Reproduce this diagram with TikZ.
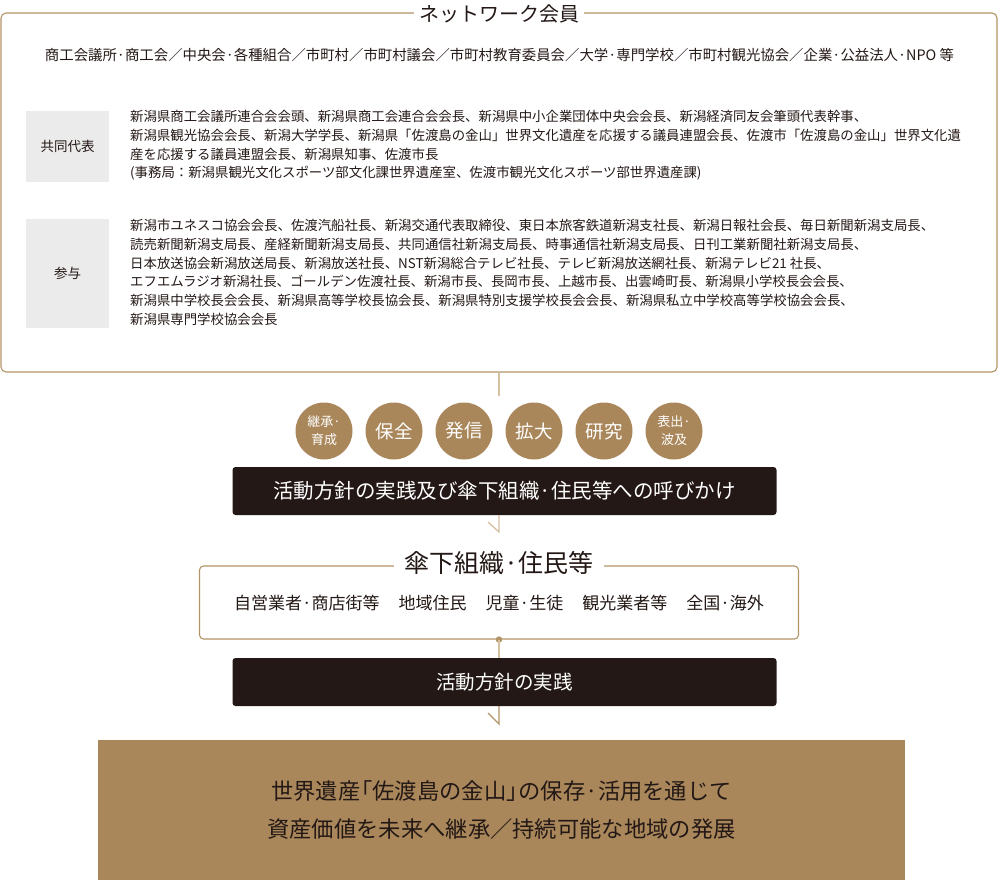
\documentclass[tikz,border=0pt]{standalone}
\usepackage{fontspec}
\setmainfont{Noto Sans CJK JP}
\definecolor{tanc}{HTML}{A9875B}
\definecolor{tanline}{HTML}{B39469}
\definecolor{lighttan}{HTML}{D6C0A2}
\definecolor{darkc}{HTML}{231815}
\definecolor{grayc}{HTML}{EBEBEB}
\newcommand\fsz[2]{\fontsize{#1}{#2}\selectfont}
\newcommand\lbr{\kern-0.45em「}
\newcommand\rbr{」\kern-0.45em}
\begin{document}
\begin{tikzpicture}[x=1pt,y=-1pt,
  framebox/.style={draw=tanline, line width=1.1pt, rounded corners=5pt, inner sep=0},
  labelgap/.style={fill=white, inner ysep=1pt, text=darkc},
  graybox/.style={fill=grayc, minimum width=83pt, inner sep=0, text=darkc, font=\fsz{13.5}{16}},
  listtext/.style={anchor=north west, inner sep=0, align=left, text=darkc, font=\fsz{13.4}{18.8}},
  circ/.style={circle, fill=tanc, minimum size=57pt, inner sep=0, text=white, align=center},
  darkbar/.style={fill=darkc, rounded corners=3pt, minimum width=544pt, minimum height=48pt, inner sep=0, text=white},
  lightline/.style={draw=lighttan, line width=1.3pt},
  arrowline/.style={draw=tanline, line width=1.3pt}]
\useasboundingbox (0,0) rectangle (998,884);

% network members frame
\node[framebox, minimum width=996pt, minimum height=359pt] (netbox) at (499,192.5) {};
\node[labelgap, inner xsep=5pt, font=\fsz{20}{24}] (nettitle) at (499,14) {ネットワーク会員};
\node[text=darkc, inner sep=0, font=\fsz{14.4}{17}] (members) at (499.5,55) {商工会議所·商工会／中央会·各種組合／市町村／市町村議会／市町村教育委員会／大学·専門学校／市町村観光協会／企業·公益法人·NPO 等};

\node[graybox, minimum height=71pt] (kyodo) at (67.5,146.5) {共同代表};
\node[listtext] (kyodotxt) at (130,110) {新潟県商工会議所連合会会頭、新潟県商工会連合会会長、新潟県中小企業団体中央会会長、新潟経済同友会筆頭代表幹事、\\
新潟県観光協会会長、新潟大学学長、新潟県「佐渡島の金山」世界文化遺産を応援する議員連盟会長、佐渡市「佐渡島の金山」世界文化遺\\
産を応援する議員連盟会長、新潟県知事、佐渡市長\\
(事務局：新潟県観光文化スポーツ部文化課世界遺産室、佐渡市観光文化スポーツ部世界遺産課)};

\node[graybox, minimum height=109pt] (sanyo) at (67.5,273.5) {参与};
\node[listtext] (sanyotxt) at (130,219) {新潟市ユネスコ協会会長、佐渡汽船社長、新潟交通代表取締役、東日本旅客鉄道新潟支社長、新潟日報社会長、毎日新聞新潟支局長、\\
読売新聞新潟支局長、産経新聞新潟支局長、共同通信社新潟支局長、時事通信社新潟支局長、日刊工業新聞社新潟支局長、\\
日本放送協会新潟放送局長、新潟放送社長、NST新潟総合テレビ社長、テレビ新潟放送網社長、新潟テレビ21 社長、\\
エフエムラジオ新潟社長、ゴールデン佐渡社長、新潟市長、長岡市長、上越市長、出雲崎町長、新潟県小学校長会会長、\\
新潟県中学校長会会長、新潟県高等学校長協会長、新潟県特別支援学校長会会長、新潟県私立中学校高等学校協会会長、\\
新潟県専門学校協会会長};

\coordinate (c0) at (499,396);
\draw[lightline] (netbox.south) -- (c0);

% circles
\node[circ, font=\fsz{13}{18}] (k1) at (324,431) {継承·\\育成};
\node[circ, font=\fsz{18.5}{20}] (k2) at (394,431) {保全};
\node[circ, font=\fsz{18.5}{20}] (k3) at (464,431) {発信};
\node[circ, font=\fsz{18.5}{20}] (k4) at (534,431) {拡大};
\node[circ, font=\fsz{18.5}{20}] (k5) at (604,431) {研究};
\node[circ, font=\fsz{13}{18}] (k6) at (674,431) {表出·\\波及};

% bar 1
\node[darkbar, font=\fsz{20.5}{23}] (bar1) at (504.5,491) {活動方針の実践及び傘下組織·住民等への呼びかけ};
\coordinate (a1) at (499,532);
\draw[lightline] (bar1.south -| a1) -- (a1) -- ++(-11,-10);

% subsidiary organisations frame
\node[framebox, rounded corners=4pt, minimum width=599pt, minimum height=73pt] (box2) at (499,602.5) {};
\node[labelgap, inner xsep=10pt, inner ysep=0pt, font=\fsz{25}{28}] (box2title) at (499,563) {傘下組織·住民等};
\node[text=darkc, inner sep=0, font=\fsz{17}{20}] (items) at (499,603) {自営業者·商店街等\hspace{19pt}地域住民\hspace{19pt}児童·生徒\hspace{19pt}観光業者等\hspace{19pt}全国·海外};
\node[circle, fill=tanline, minimum size=6.5pt, inner sep=0] (dot) at (box2.south) {};

% bar 2
\node[darkbar, font=\fsz{19.5}{22}] (bar2) at (504.5,682) {活動方針の実践};
\draw[lightline] (dot.center) -- (dot.center |- bar2.north);
\coordinate (a2) at (499,724);
\draw[arrowline] (bar2.south -| a2) -- (a2) -- ++(-11,-11);

% goal
\node[fill=tanc, minimum width=807pt, minimum height=140pt, inner sep=0, text=darkc, align=center, font=\fsz{22.3}{38}] (goal) at (501.5,810) {世界遺産\lbr 佐渡島の金山\rbr の保存·活用を通じて\\資産価値を未来へ継承／持続可能な地域の発展};
\end{tikzpicture}
\end{document}
